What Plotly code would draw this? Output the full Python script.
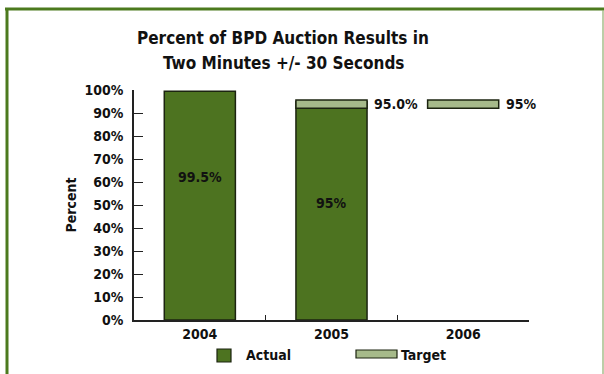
import plotly.graph_objects as go

# Data
years = ["2004", "2005", "2006"]
actual = [99.5, 95.0, None]
target = [None, 95.0, 95.0]
actual_labels = ["99.5%", "95%", ""]
target_labels = ["", "95.0%", "95%"]
actual_label_y = [62, 51, None]
y_ticks = [0, 10, 20, 30, 40, 50, 60, 70, 80, 90, 100]
title_lines = ["Percent of BPD Auction Results in", "Two Minutes +/- 30 Seconds"]

FONT = "Liberation Sans Narrow, Arial Narrow, DejaVu Sans Condensed, sans-serif"
ACTUAL_COLOR = "#4d7320"
TARGET_COLOR = "#a6ba8a"
EDGE = "#1c2410"
FRAME = "#4c7a1e"
TXT = "#111111"

# Target band thickness (value units) drawn just under/over the target level
BAND_LOW, BAND_HIGH = 2.9, 0.6

W, H = 604, 374
ML, MR, MT, MB = 134, 75, 90, 54
PW, PH = W - ML - MR, H - MT - MB


def px(x):
    return (x - ML) / PW


def py(y):
    return (H - MB - y) / PH


fig = go.Figure()

fig.add_trace(go.Bar(
    x=years, y=actual, name="Actual", width=0.54,
    marker=dict(color=ACTUAL_COLOR, line=dict(color=EDGE, width=1.5)),
    showlegend=False, hoverinfo="skip",
))

t_base = [t - BAND_LOW if t is not None else None for t in target]
t_height = [BAND_LOW + BAND_HIGH if t is not None else None for t in target]
fig.add_trace(go.Bar(
    x=years, y=t_height, base=t_base, name="Target", width=0.54,
    marker=dict(color=TARGET_COLOR, line=dict(color=EDGE, width=1.5)),
    showlegend=False, hoverinfo="skip",
))

annotations = []
for i, yr in enumerate(years):
    if actual[i] is not None:
        annotations.append(dict(
            x=i, y=actual_label_y[i], xref="x", yref="y",
            text=f"<b>{actual_labels[i]}</b>",
            showarrow=False, xanchor="center", yanchor="middle",
            font=dict(family=FONT, size=14, color=TXT),
        ))
    if target[i] is not None:
        annotations.append(dict(
            x=i + 0.3, y=target[i] - 1.2, xref="x", yref="y",
            text=f"<b>{target_labels[i]}</b>",
            showarrow=False, xanchor="left", yanchor="middle", xshift=1,
            font=dict(family=FONT, size=14, color=TXT),
        ))

# Title, one annotation per line
for line, ypix in zip(title_lines, [38, 63]):
    annotations.append(dict(
        x=px(283), y=py(ypix), xref="paper", yref="paper",
        text=f"<b>{line}</b>",
        showarrow=False, xanchor="center", yanchor="middle",
        font=dict(family=FONT, size=17, color=TXT),
    ))
# Legend text
annotations.append(dict(
    x=px(244), y=py(355), xref="paper", yref="paper", text="<b>Actual</b>",
    showarrow=False, xanchor="left", yanchor="middle",
    font=dict(family=FONT, size=14, color=TXT),
))
annotations.append(dict(
    x=px(399), y=py(355), xref="paper", yref="paper", text="<b>Target</b>",
    showarrow=False, xanchor="left", yanchor="middle",
    font=dict(family=FONT, size=14, color=TXT),
))

shapes = [
    # legend swatches
    dict(type="rect", xref="paper", yref="paper",
         x0=px(217), x1=px(231), y0=py(362), y1=py(349),
         fillcolor=ACTUAL_COLOR, line=dict(color=EDGE, width=1.2)),
    dict(type="rect", xref="paper", yref="paper",
         x0=px(356), x1=px(397), y0=py(358), y1=py(350),
         fillcolor=TARGET_COLOR, line=dict(color=EDGE, width=1.2)),
    # frame
    dict(type="line", xref="paper", yref="paper",
         x0=px(5), x1=px(604), y0=py(9), y1=py(9),
         line=dict(color=FRAME, width=3)),
    dict(type="line", xref="paper", yref="paper",
         x0=px(7), x1=px(7), y0=py(8), y1=py(376),
         line=dict(color=FRAME, width=3)),
    dict(type="line", xref="paper", yref="paper",
         x0=px(603), x1=px(603), y0=py(10), y1=py(376),
         line=dict(color="#8fae6e", width=1.2)),
]

fig.update_layout(
    width=W, height=H,
    margin=dict(l=ML, r=MR, t=MT, b=MB),
    paper_bgcolor="white", plot_bgcolor="white",
    barmode="overlay", bargap=0.46,
    font=dict(family=FONT, color=TXT),
    annotations=annotations, shapes=shapes,
    showlegend=False,
)

fig.update_xaxes(
    type="category", categoryorder="array", categoryarray=years,
    range=[-0.5, 2.5], showline=True, linecolor="#222", linewidth=1.5,
    ticks="inside", tickson="boundaries", ticklen=5, tickcolor="#222", tickwidth=1,
    tickfont=dict(family=FONT, size=14, color=TXT, weight="bold"),
    showgrid=False, zeroline=False,
)
fig.update_yaxes(
    range=[0, 100], tickvals=y_ticks, ticktext=[f"{v}%" for v in y_ticks],
    showline=True, linecolor="#222", linewidth=1.5,
    ticks="inside", ticklen=9, tickcolor="#222", tickwidth=1,
    tickfont=dict(family=FONT, size=14, color=TXT, weight="bold"),
    ticklabelstandoff=6,
    title=dict(text="<b>Percent</b>", font=dict(family=FONT, size=14, color=TXT), standoff=5),
    showgrid=False, zeroline=False,
)

fig.write_html("out.html")
